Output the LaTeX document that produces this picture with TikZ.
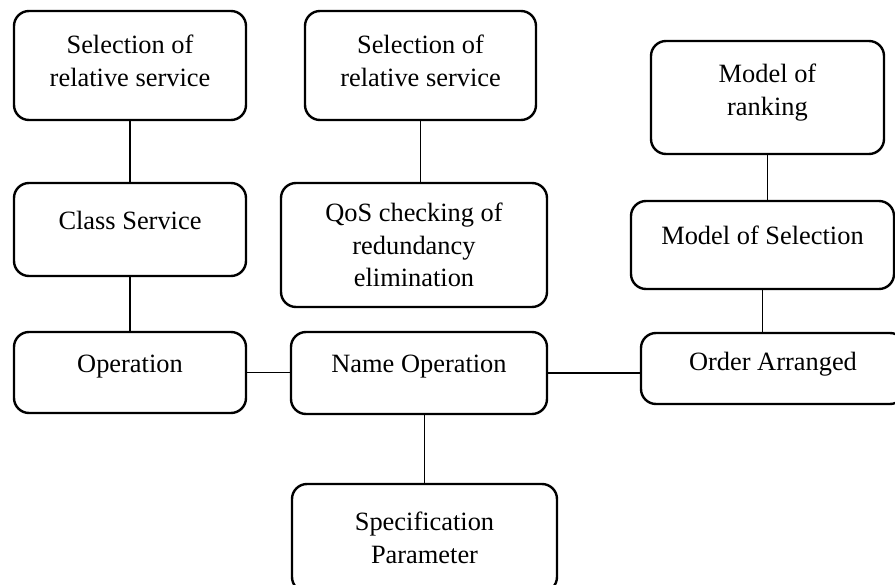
\documentclass[tikz,border=0pt]{standalone}
\usepackage{fontspec}
\setmainfont{Liberation Serif}
\begin{document}
\begin{tikzpicture}[x=1pt,y=-1pt]
	\tikzstyle{every node}+=[inner sep=0pt]
	\tikzstyle{box}=[draw=black, line width=2.4pt, rounded corners=15pt, align=center, font=\fontsize{26.4}{32.5}\selectfont]
	\tikzstyle{oneline}=[text height=0.75em, text depth=0.75em]
	\tikzstyle{twoline}=[text depth=10pt]
	\tikzstyle{link}=[black, line width=1.2pt]
	\useasboundingbox (0,0) rectangle (895,585);
	\clip (0,0) rectangle (895,585);
	\node [box, twoline, minimum width=232pt, minimum height=109pt] (sel1) at (130,65.5) {Selection of\\relative service};
	\node [box, oneline, minimum width=232pt, minimum height=93pt] (cls) at (130,229.5) {Class Service};
	\node [box, oneline, minimum width=232pt, minimum height=81pt] (op) at (130,372.5) {Operation};
	\node [box, twoline, minimum width=231pt, minimum height=109pt] (sel2) at (420.5,65.5) {Selection of\\relative service};
	\node [box, minimum width=266pt, minimum height=124pt] (qos) at (414,245) {QoS checking of\\redundancy\\elimination};
	\node [box, oneline, minimum width=256pt, minimum height=82pt] (nameop) at (419,373) {Name Operation};
	\node [box, minimum width=265pt, minimum height=108pt] (spec) at (424.5,538) {Specification\\Parameter};
	\node [box, twoline, text depth=16pt, minimum width=233pt, minimum height=113pt] (rank) at (767.5,97.5) {Model of\\ranking};
	\node [box, oneline, minimum width=263pt, minimum height=88pt] (msel) at (762.5,245) {Model of Selection};
	\node [box, oneline, text depth=0.3em, minimum width=264pt, minimum height=71pt] (order) at (773,368.5) {Order Arranged};
	\draw [link] (sel1) -- (cls);
	\draw [link] (cls) -- (op);
	\draw [link] (sel2.south) -- (sel2.south |- qos.north);
	\draw [link] (op.east) -- (op.east -| nameop.west);
	\draw [link] (nameop.east) -- (nameop.east -| order.west);
	\draw [link] (spec.north) -- (spec.north |- nameop.south);
	\draw [link] (rank.south) -- (rank.south |- msel.north);
	\draw [link] (msel.south) -- (msel.south |- order.north);
\end{tikzpicture}
\end{document}
